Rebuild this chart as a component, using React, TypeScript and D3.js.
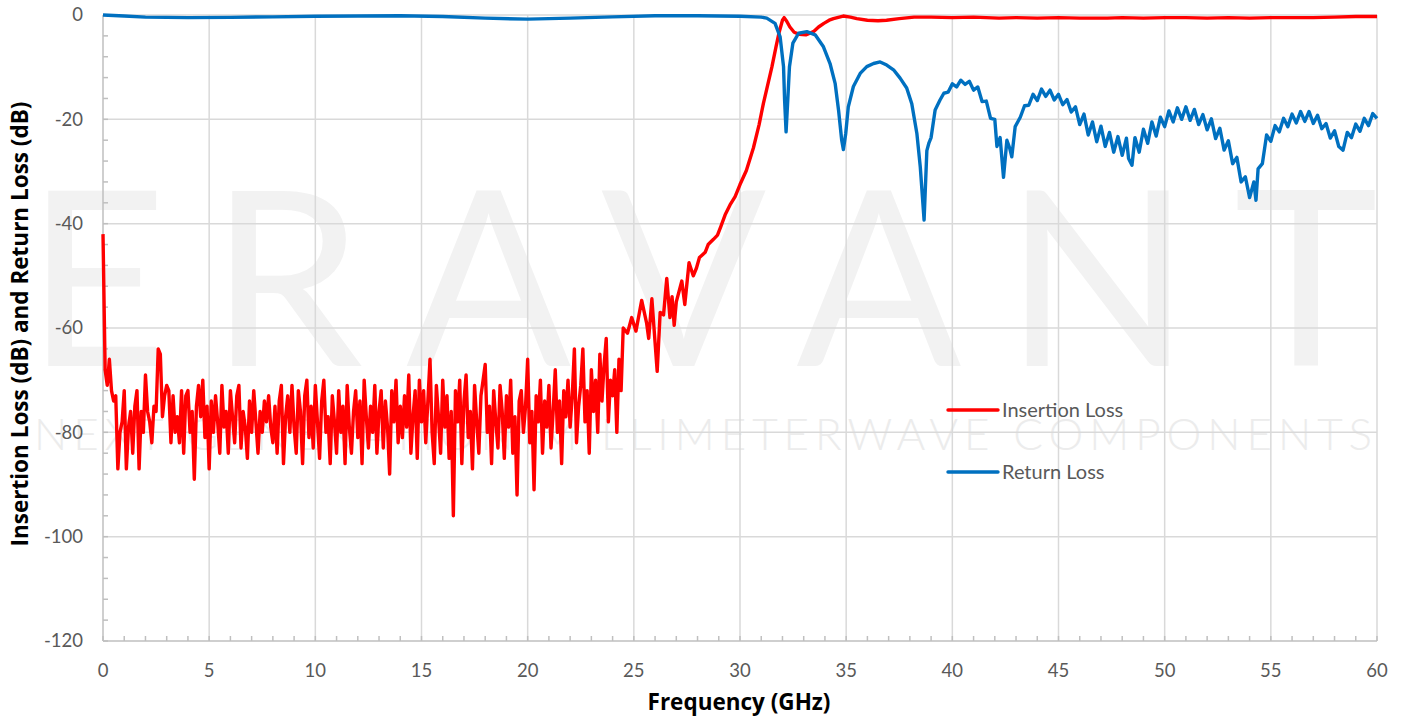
import React from "react";
import * as d3 from "d3";

// ---------- DATA ----------
const xTickValues = [0, 5, 10, 15, 20, 25, 30, 35, 40, 45, 50, 55, 60];
const yTickValues = [0, -20, -40, -60, -80, -100, -120];
const xTitle = "Frequency (GHz)";
const yTitle = "Insertion Loss (dB) and Return Loss (dB)";
const seriesNames = ["Insertion Loss", "Return Loss"];
const watermarkBig = "ERAVANT";
const watermarkSmall = "NEXT GENERATION MILLIMETERWAVE COMPONENTS";

// Insertion loss, stop-band sweep 0 .. 24.5 GHz sampled every 0.1 GHz
const ilSweepStartGHz = 0;
const ilSweepStepGHz = 0.1;
const ilStopbandDb = [
  -42, -68, -71, -66, -72, -74, -73, -87, -80, -78,
  -72, -87, -79, -76, -84, -75, -72, -87, -76, -80,
  -69, -76, -78, -82, -75, -76, -64, -65, -77, -73,
  -71, -72, -82, -73, -80, -77, -82, -72, -84, -73,
  -72, -80, -76, -89, -75, -71, -77, -70, -81, -75,
  -87, -74, -80, -73, -78, -84, -71, -79, -76, -84,
  -72, -77, -82, -73, -71, -83, -76, -79, -85, -74,
  -80, -72, -78, -84, -76, -80, -74, -78, -73, -79,
  -82, -75, -84, -74, -71, -86, -77, -73, -80, -71,
  -79, -84, -72, -76, -86, -73, -70, -81, -75, -83,
  -71, -78, -85, -74, -70, -80, -77, -86, -73, -78,
  -84, -72, -80, -75, -86, -71, -79, -84, -76, -72,
  -81, -74, -86, -70, -77, -83, -75, -80, -71, -84,
  -76, -72, -83, -74, -79, -88, -72, -78, -70, -82,
  -75, -81, -73, -79, -69, -84, -77, -72, -85, -70,
  -78, -72, -82, -74, -66, -80, -86, -71, -77, -84,
  -70, -79, -73, -85, -76, -96, -72, -78, -70, -86,
  -74, -69, -81, -76, -87, -71, -78, -84, -73, -70,
  -67, -80, -75, -86, -72, -78, -83, -71, -76, -85,
  -73, -79, -70, -84, -77, -92, -74, -72, -80, -75,
  -66, -82, -76, -91, -73, -78, -70, -84, -74, -79,
  -71, -83, -76, -68, -80, -74, -86, -72, -77, -70,
  -79, -73, -64, -82, -75, -71, -64, -78, -72, -84,
  -68, -76, -70, -80, -65, -74, -67, -62, -78, -70,
  -73, -68, -80, -66, -72, -60,
];

// Insertion loss, transition and pass band: [GHz, dB]
const ilPassband: [number, number][] = [
  [24.7, -61], [24.9, -58], [25.1, -60.6], [25.37, -54.7], [25.6, -59], [25.7, -62],
  [25.85, -54.4], [26.1, -68.3], [26.24, -57], [26.4, -57.5], [26.55, -50.5], [26.7, -58],
  [26.8, -54], [26.9, -59.5], [27.0, -55], [27.26, -51], [27.4, -55.5], [27.6, -47.5],
  [27.8, -50], [27.95, -48.5], [28.09, -46.5], [28.36, -45.5], [28.5, -44], [28.75, -43],
  [28.94, -42.2], [29.1, -40.5], [29.3, -38.3], [29.53, -36.4], [29.77, -34.8], [30.0, -32.5],
  [30.3, -29.8], [30.63, -25.5], [30.9, -21], [31.1, -17], [31.3, -13.5], [31.5, -10],
  [31.7, -6], [31.85, -3.2], [32.0, -1.0], [32.08, -0.5], [32.2, -1.2], [32.35, -2.3],
  [32.55, -3.3], [32.8, -3.7], [33.1, -3.8], [33.46, -3.2], [33.7, -2.3], [33.95, -1.6],
  [34.2, -1.0], [34.4, -0.7], [34.86, -0.2], [35.2, -0.4], [35.5, -0.7], [36.0, -1.0],
  [36.5, -1.1], [36.9, -1.0], [37.5, -0.7], [38.2, -0.4], [39, -0.4], [40, -0.5],
  [41, -0.4], [42.2, -0.6], [43, -0.5], [44, -0.6], [45, -0.5], [46, -0.6],
  [47.3, -0.6], [48, -0.5], [49, -0.6], [50, -0.5], [51, -0.5], [52, -0.6],
  [53, -0.5], [54, -0.6], [55, -0.5], [56, -0.5], [57, -0.5], [58, -0.4],
  [59, -0.3], [60, -0.3],
];

// Return loss: [GHz, dB]
const returnLoss: [number, number][] = [
  [0, 0], [1, -0.2], [2, -0.4], [4, -0.5], [6, -0.45], [8, -0.35], [10, -0.25],
  [12, -0.2], [14, -0.15], [16, -0.3], [18, -0.6], [20, -0.8], [22, -0.6], [24, -0.35],
  [26, -0.15], [28, -0.15], [30, -0.25], [31, -0.4], [31.26, -0.6], [31.65, -1.6],
  [31.89, -4.2], [32.05, -9.9], [32.1, -16.3], [32.17, -22.4], [32.25, -16.3], [32.33, -9.9],
  [32.49, -5.4], [32.76, -3.5], [33.15, -3.2], [33.54, -3.8], [33.93, -6.1], [34.24, -9.3],
  [34.48, -13.1], [34.64, -18.2], [34.79, -24], [34.87, -25.8], [34.98, -22.7], [35.1, -17.6],
  [35.34, -13.7], [35.66, -11.2], [35.97, -9.9], [36.29, -9.3], [36.6, -9.0], [36.91, -9.6],
  [37.23, -10.5], [37.54, -12.1], [37.85, -14.0], [38.09, -17.0], [38.33, -22.7], [38.49, -29.1],
  [38.67, -39.3], [38.8, -26], [38.9, -24.5], [39.0, -23.5], [39.19, -18.2], [39.42, -16.3],
  [39.6, -15.0], [39.8, -14.8], [40.0, -13.2], [40.2, -13.8], [40.4, -12.5], [40.6, -13.3],
  [40.8, -12.7], [41.0, -14.4], [41.2, -13.8], [41.4, -16.6], [41.6, -16.5], [41.8, -19.8],
  [42.0, -20.0], [42.1, -25.2], [42.25, -23.5], [42.41, -31.1], [42.57, -24.0], [42.7, -25.5],
  [42.8, -27.2], [42.96, -21.4], [43.2, -19.6], [43.4, -17.4], [43.6, -17.3], [43.8, -15.2],
  [44.0, -16.4], [44.2, -14.2], [44.4, -15.6], [44.6, -14.4], [44.8, -16.3], [45.0, -15.2],
  [45.2, -17.2], [45.4, -16.2], [45.6, -18.6], [45.8, -17.6], [46.0, -21.0], [46.2, -19.0],
  [46.4, -23.0], [46.6, -20.5], [46.8, -24.3], [47.0, -21.3], [47.2, -25.2], [47.4, -22.5],
  [47.6, -26.3], [47.8, -23.3], [48.0, -26.9], [48.2, -23.6], [48.3, -27.5], [48.46, -28.8],
  [48.6, -23.5], [48.8, -26.3], [49.0, -21.9], [49.2, -24.6], [49.4, -20.5], [49.6, -23.2],
  [49.8, -19.6], [50.0, -21.4], [50.2, -18.4], [50.4, -20.5], [50.6, -17.8], [50.8, -20.0],
  [51.0, -17.6], [51.2, -20.2], [51.4, -18.1], [51.6, -21.0], [51.8, -19.1], [52.0, -22.0],
  [52.2, -19.9], [52.4, -23.7], [52.6, -21.7], [52.8, -25.9], [53.0, -24.1], [53.2, -28.5],
  [53.4, -27.3], [53.6, -32.0], [53.8, -31.0], [54.0, -35.0], [54.2, -32.0], [54.3, -35.5],
  [54.4, -29.5], [54.6, -28.5], [54.8, -23.0], [55.0, -24.2], [55.2, -21.2], [55.4, -22.4],
  [55.6, -19.8], [55.8, -21.4], [56.0, -19.0], [56.2, -20.7], [56.4, -18.5], [56.6, -20.4],
  [56.8, -18.5], [57.0, -20.8], [57.2, -19.2], [57.4, -21.8], [57.6, -20.8], [57.8, -23.6],
  [58.0, -22.2], [58.2, -25.2], [58.4, -25.9], [58.6, -22.5], [58.8, -23.5], [59.0, -20.9],
  [59.2, -22.3], [59.4, -19.8], [59.6, -21.2], [59.8, -18.9], [60.0, -19.8],
];

// ---------- CHART ----------
const W = 1403;
const H = 720;
const M = { left: 103, right: 26, top: 15, bottom: 79 };
const FONT = "Lato, 'Open Sans', sans-serif";
const TITLE_FONT = "'Open Sans', Lato, sans-serif";

export default function App() {
  const x = d3.scaleLinear().domain([0, 60]).range([M.left, W - M.right]);
  const y = d3.scaleLinear().domain([-120, 0]).range([H - M.bottom, M.top]);

  const ilPoints: [number, number][] = [
    ...ilStopbandDb.map((v, i) => [ilSweepStartGHz + i * ilSweepStepGHz, v] as [number, number]),
    ...ilPassband,
  ];

  const line = d3
    .line<[number, number]>()
    .x((d) => x(d[0]))
    .y((d) => y(d[1]))
    .curve(d3.curveLinear);

  const xMinor = d3.range(0, 61, 1);
  const yMinor = d3.range(-120, 1, 4);

  const plotL = x(0);
  const plotR = x(60);
  const plotT = y(0);
  const plotB = y(-120);

  const legendX = 948;
  const legendY = [410, 472];
  const colors = ["#ff0000", "#0070c0"];

  return (
    <svg
      width={W}
      height={H}
      style={{ position: "absolute", left: 0, top: 0, background: "#fff" }}
      fontFamily={FONT}
    >
      {/* watermark */}
      <text
        x={26}
        y={366}
        fontSize={244}
        fontWeight={400}
        fill="#f2f2f2"
        textLength={1352}
        lengthAdjust="spacing"
        fontFamily="Lato, sans-serif"
      >
        {watermarkBig}
      </text>
      <text
        x={34}
        y={450}
        fontSize={44}
        fontWeight={300}
        fill="#ececec"
        textLength={1338}
        lengthAdjust="spacing"
        fontFamily="Lato, sans-serif"
      >
        {watermarkSmall}
      </text>

      {/* grid */}
      <g stroke="#d9d9d9" strokeWidth={1.5}>
        {xTickValues.slice(1).map((t) => (
          <line key={"gx" + t} x1={x(t)} x2={x(t)} y1={plotT} y2={plotB} />
        ))}
        {yTickValues.slice(0, -1).map((t) => (
          <line key={"gy" + t} x1={plotL} x2={plotR} y1={y(t)} y2={y(t)} />
        ))}
      </g>

      {/* axes */}
      <g stroke="#bfbfbf" strokeWidth={1.5}>
        <line x1={plotL} x2={plotL} y1={plotT} y2={plotB} />
        <line x1={plotL} x2={plotR} y1={plotB} y2={plotB} />
        {xMinor.map((t) => (
          <line key={"mx" + t} x1={x(t)} x2={x(t)} y1={plotB} y2={plotB - 5} />
        ))}
        {yMinor.map((t) => (
          <line key={"my" + t} x1={plotL} x2={plotL + 5} y1={y(t)} y2={y(t)} />
        ))}
      </g>

      {/* tick labels */}
      <g fill="#595959" fontSize={18.5}>
        {yTickValues.map((t) => (
          <text key={"ly" + t} x={83} y={y(t)} dy="0.35em" textAnchor="end">
            {t}
          </text>
        ))}
        {xTickValues.map((t) => (
          <text key={"lx" + t} x={x(t)} y={677} textAnchor="middle">
            {t}
          </text>
        ))}
      </g>

      {/* axis titles */}
      <text
        x={739}
        y={710}
        textAnchor="middle"
        fontWeight={700}
        fontSize={22.5}
        fill="#000"
        fontFamily={TITLE_FONT}
      >
        {xTitle}
      </text>
      <text
        transform={`translate(28, 324) rotate(-90)`}
        textAnchor="middle"
        fontWeight={700}
        fontSize={22.5}
        fill="#000"
        fontFamily={TITLE_FONT}
      >
        {yTitle}
      </text>

      {/* series */}
      <path d={line(ilPoints) || ""} fill="none" stroke={colors[0]} strokeWidth={3.4} strokeLinejoin="round" />
      <path d={line(returnLoss) || ""} fill="none" stroke={colors[1]} strokeWidth={3.4} strokeLinejoin="round" />

      {/* legend */}
      {seriesNames.map((name, i) => (
        <g key={name}>
          <line
            x1={legendX}
            x2={legendX + 50}
            y1={legendY[i]}
            y2={legendY[i]}
            stroke={colors[i]}
            strokeWidth={3.4}
            strokeLinecap="round"
          />
          <text x={legendX + 54} y={legendY[i]} dy="0.35em" fontSize={20} fill="#595959">
            {name}
          </text>
        </g>
      ))}
    </svg>
  );
}
